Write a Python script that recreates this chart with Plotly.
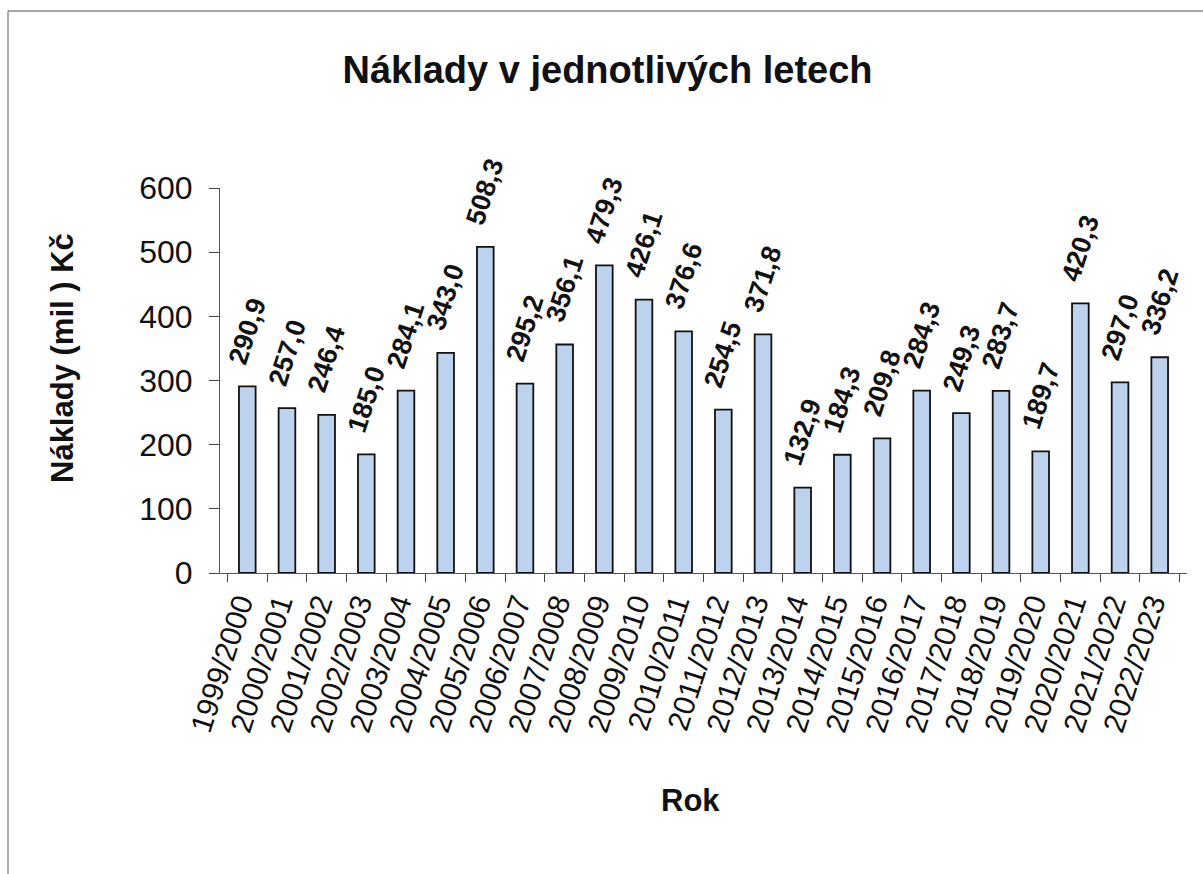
import plotly.graph_objects as go

years = ["1999/2000", "2000/2001", "2001/2002", "2002/2003", "2003/2004", "2004/2005",
         "2005/2006", "2006/2007", "2007/2008", "2008/2009", "2009/2010", "2010/2011",
         "2011/2012", "2012/2013", "2013/2014", "2014/2015", "2015/2016", "2016/2017",
         "2017/2018", "2018/2019", "2019/2020", "2020/2021", "2021/2022", "2022/2023"]
costs = [290.9, 257.0, 246.4, 185.0, 284.1, 343.0, 508.3, 295.2, 356.1, 479.3, 426.1, 376.6,
         254.5, 371.8, 132.9, 184.3, 209.8, 284.3, 249.3, 283.7, 189.7, 420.3, 297.0, 336.2]
y_ticks = [0, 100, 200, 300, 400, 500, 600]

FONT = "Liberation Sans, Arial, sans-serif"
W, H = 1203, 874
L, R, T, B = 220, 16, 188, 301
pw, ph = W - L - R, H - T - B

def px_x(p):
    return (p - L) / pw

def px_y(p):
    return (H - B - p) / ph

fig = go.Figure(go.Bar(
    x=years, y=costs,
    marker=dict(color="#bdd2ec", line=dict(color="#111111", width=1.8)),
    cliponaxis=False,
))

for yr, v in zip(years, costs):
    fig.add_annotation(x=yr, y=v, xref="x", yref="y", text=f"<b>{v:.1f}</b>".replace(".", ","),
                       textangle=-72, showarrow=False, xanchor="center", yanchor="bottom",
                       yshift=16, font=dict(family=FONT, size=27, color="#111111"))

fig.update_layout(
    width=W, height=H, margin=dict(l=L, r=R, t=T, b=B, autoexpand=False),
    plot_bgcolor="white", paper_bgcolor="white", separators=", ",
    bargap=0.58, showlegend=False,
    title=dict(text="<b>Náklady v jednotlivých letech</b>", x=0.505, xanchor="center",
               y=1 - 70 / H, yanchor="middle", font=dict(family=FONT, size=38, color="#111111")),
    font=dict(family=FONT, color="#111111"),
)
fig.update_xaxes(type="category", tickangle=-72, tickson="boundaries", ticks="outside",
                 ticklen=8, tickcolor="#444444", showline=True, linecolor="#555555", linewidth=1,
                 tickfont=dict(family=FONT, size=30, color="#111111"), showgrid=False,
                 ticklabelshift=-8)
fig.update_yaxes(range=[0, 600], tickvals=y_ticks, ticks="outside", ticklen=10,
                 tickcolor="#444444", showline=True, linecolor="#555555", linewidth=1,
                 tickfont=dict(family=FONT, size=32, color="#111111"), showgrid=False,
                 zeroline=False, ticklabelstandoff=10)

fig.add_annotation(text="<b>Náklady (mil ) Kč</b>", xref="paper", yref="paper",
                   x=px_x(62), y=px_y(358), textangle=-90, showarrow=False,
                   xanchor="center", yanchor="middle",
                   font=dict(family=FONT, size=31, color="#111111"))
fig.add_annotation(text="<b>Rok</b>", xref="paper", yref="paper",
                   x=px_x(690), y=px_y(800), showarrow=False,
                   xanchor="center", yanchor="middle",
                   font=dict(family=FONT, size=31, color="#111111"))

fig.add_shape(type="line", xref="paper", yref="paper", x0=px_x(8), x1=px_x(8),
              y0=px_y(11), y1=px_y(874), line=dict(color="#8a8fa8", width=1.5))
fig.add_shape(type="line", xref="paper", yref="paper", x0=px_x(8), x1=px_x(1203),
              y0=px_y(11), y1=px_y(11), line=dict(color="#8a8a8a", width=1.5))

fig.write_html("out.html", post_script="document.body.style.margin='0';",
               config={"displayModeBar": False})
